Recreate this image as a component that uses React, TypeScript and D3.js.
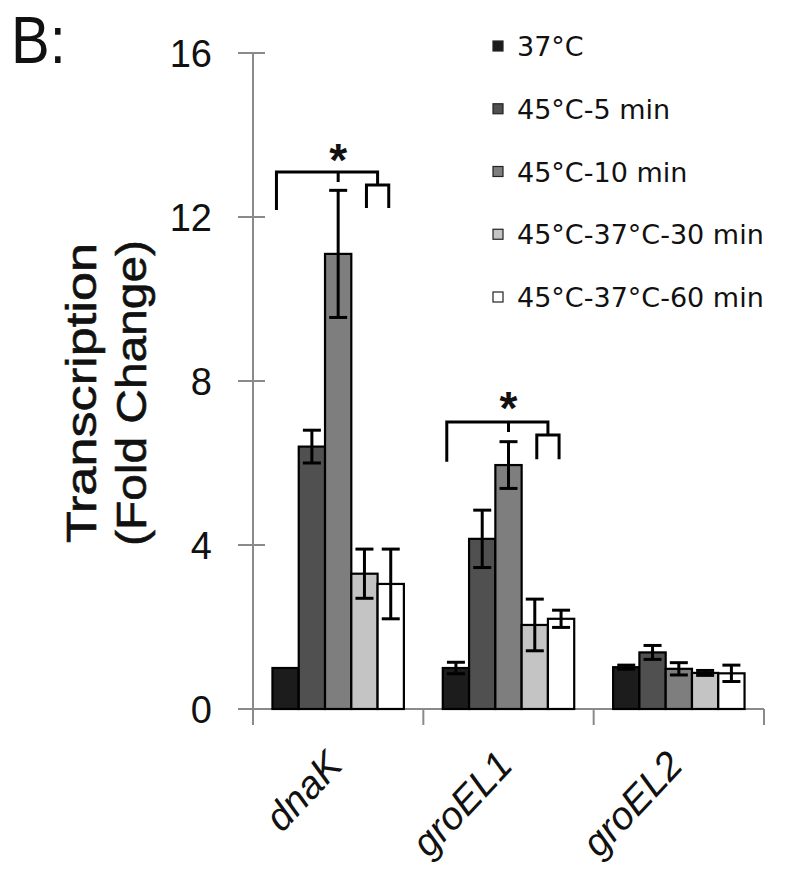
import React, { useRef, useEffect } from 'react';
import * as d3 from 'd3';

const categories = ['dnaK', 'groEL1', 'groEL2'];
const series = ['37°C', '45°C-5 min', '45°C-10 min', '45°C-37°C-30 min', '45°C-37°C-60 min'];
const colors = ['#1c1c1c', '#505050', '#7e7e7e', '#c4c4c4', '#ffffff'];

// mean fold change per category, one array per series
const values = [
  [1.0, 1.0, 1.02],
  [6.4, 4.15, 1.38],
  [11.1, 5.95, 0.98],
  [3.3, 2.05, 0.88],
  [3.05, 2.2, 0.87],
];
const errors = [
  [0.0, 0.14, 0.05],
  [0.4, 0.7, 0.17],
  [1.55, 0.57, 0.15],
  [0.6, 0.63, 0.06],
  [0.85, 0.21, 0.2],
];

const yTicks = [0, 4, 8, 12, 16];

// significance brackets: main line, left leg end, sub-bracket line, sub leg end, star
const sigCategories = ['dnaK', 'groEL1'];
const sigMain = [13.1, 7.0];
const sigLeg = [12.17, 6.03];
const sigSub = [12.78, 6.68];
const sigSubLeg = [12.22, 6.09];
const sigStar = [13.62, 7.55];

const W = 800;
const H = 880;

const App = () => {
  const svgRef = useRef<SVGSVGElement>(null);

  useEffect(() => {
    const svg = d3.select(svgRef.current);
    svg.selectAll('*').remove();

    const x0 = 253, x1 = 764, y0 = 709, y1 = 53;
    const axisColor = '#8a8a8a';

    const y = d3.scaleLinear().domain([0, 16]).range([y0, y1]);
    const x = d3.scaleBand().domain(categories).range([x0, x1]).padding(0);
    const xs = d3.scaleBand().domain(series).range([0, x.bandwidth()])
      .paddingInner(0).paddingOuter(0.74);
    const bw = xs.bandwidth();

    svg.append('rect').attr('width', W).attr('height', H).attr('fill', '#fff');

    // panel letter
    svg.append('text')
      .attr('transform', 'translate(11,63) scale(1,1.15)')
      .attr('font-family', 'Liberation Sans, Arial, sans-serif')
      .attr('font-size', 58)
      .attr('fill', '#111')
      .text('B:');

    // y axis
    const gy = svg.append('g');
    gy.append('line')
      .attr('x1', x0).attr('x2', x0)
      .attr('y1', y(16)).attr('y2', y0 + 16)
      .attr('stroke', axisColor).attr('stroke-width', 2);
    gy.selectAll('.tick')
      .data(yTicks)
      .enter().append('line')
        .attr('x1', x0 - 15).attr('x2', x0 + 12)
        .attr('y1', d => y(d)).attr('y2', d => y(d))
        .attr('stroke', axisColor).attr('stroke-width', 2);
    gy.selectAll('.lbl')
      .data(yTicks)
      .enter().append('text')
        .attr('x', x0 - 41)
        .attr('y', d => y(d) + 14)
        .attr('text-anchor', 'end')
        .attr('font-family', 'Liberation Sans, Arial, sans-serif')
        .attr('font-size', 38)
        .attr('fill', '#111')
        .text(d => d);

    // y axis title
    const titleY = 393;
    [['Transcription', 96], ['(Fold Change)', 146]].forEach(([t, cx]) => {
      svg.append('text')
        .attr('transform', `translate(${cx},${titleY}) rotate(-90)`)
        .attr('text-anchor', 'middle')
        .attr('font-family', 'Liberation Sans, Arial, sans-serif')
        .attr('font-size', 42)
        .attr('textLength', t === 'Transcription' ? 300 : 306)
        .attr('lengthAdjust', 'spacingAndGlyphs')
        .attr('fill', '#111')
        .attr('stroke', '#111')
        .attr('stroke-width', 0.6)
        .text(t as string);
    });

    // x axis
    const gx = svg.append('g');
    gx.append('line')
      .attr('x1', x0).attr('x2', x1)
      .attr('y1', y0).attr('y2', y0)
      .attr('stroke', axisColor).attr('stroke-width', 2);
    const boundaries = categories.map(c => x(c) as number).concat([x1]);
    gx.selectAll('.xt')
      .data(boundaries.slice(1))
      .enter().append('line')
        .attr('x1', d => d).attr('x2', d => d)
        .attr('y1', y0).attr('y2', y0 + 16)
        .attr('stroke', axisColor).attr('stroke-width', 2);
    gx.selectAll('.xl')
      .data(categories)
      .enter().append('text')
        .attr('transform', d => `translate(${(x(d) as number) + x.bandwidth() / 2 + 6},${y0 + 58}) rotate(-47)`)
        .attr('text-anchor', 'end')
        .attr('font-family', 'Liberation Sans, Arial, sans-serif')
        .attr('font-style', 'italic')
        .attr('font-size', 39)
        .attr('fill', '#111')
        .text(d => d);

    // bars
    const rows = series.flatMap((s, si) => categories.map((c, ci) => ({
      s, si, c, v: values[si][ci], e: errors[si][ci],
    })));
    const g = svg.append('g');
    g.selectAll('.bar')
      .data(rows)
      .enter().append('rect')
        .attr('x', d => (x(d.c) as number) + (xs(d.s) as number))
        .attr('y', d => y(d.v))
        .attr('width', bw)
        .attr('height', d => y0 - y(d.v))
        .attr('fill', d => colors[d.si])
        .attr('stroke', '#000')
        .attr('stroke-width', 2.2);

    // error bars
    const eb = g.selectAll('.err').data(rows.filter(d => d.e > 0)).enter().append('g');
    const cxOf = (d: any) => (x(d.c) as number) + (xs(d.s) as number) + bw / 2;
    eb.append('line')
      .attr('x1', cxOf).attr('x2', cxOf)
      .attr('y1', d => y(d.v + d.e)).attr('y2', d => y(d.v - d.e))
      .attr('stroke', '#000').attr('stroke-width', 3);
    [1, -1].forEach(sign => {
      eb.append('line')
        .attr('x1', d => cxOf(d) - 9).attr('x2', d => cxOf(d) + 9)
        .attr('y1', d => y(d.v + sign * d.e)).attr('y2', d => y(d.v + sign * d.e))
        .attr('stroke', '#000').attr('stroke-width', 3);
    });

    // significance brackets
    const sig = sigCategories.map((c, i) => ({
      c, main: sigMain[i], leg: sigLeg[i], sub: sigSub[i], subLeg: sigSubLeg[i], star: sigStar[i],
    }));
    const barCenter = (c: string, si: number) => (x(c) as number) + (xs(series[si]) as number) + bw / 2;
    const sg = svg.append('g').attr('fill', 'none').attr('stroke', '#000').attr('stroke-width', 3);
    sig.forEach(d => {
      const left = (x(d.c) as number) + (xs(series[0]) as number) + 4;
      const sl = barCenter(d.c, 3) + 2;
      const sr = barCenter(d.c, 4) - 2;
      const right = (sl + sr) / 2;
      const mid = barCenter(d.c, 2);
      const path = d3.path();
      path.moveTo(left, y(d.leg));
      path.lineTo(left, y(d.main));
      path.lineTo(right, y(d.main));
      path.lineTo(right, y(d.sub));
      path.moveTo(mid, y(d.main));
      path.lineTo(mid, y(d.main) + 10);
      path.moveTo(sl, y(d.subLeg));
      path.lineTo(sl, y(d.sub));
      path.lineTo(sr, y(d.sub));
      path.lineTo(sr, y(d.subLeg));
      sg.append('path').attr('d', path.toString());
      svg.append('text')
        .attr('x', mid)
        .attr('y', y(d.star) + 25)
        .attr('text-anchor', 'middle')
        .attr('font-family', 'Liberation Sans, Arial, sans-serif')
        .attr('font-weight', 'bold')
        .attr('font-size', 46)
        .attr('fill', '#111')
        .text('*');
    });

    // legend
    const legY = d3.scaleLinear().domain([0, 4]).range([46, 297]);
    const lg = svg.append('g');
    series.forEach((s, i) => {
      lg.append('rect')
        .attr('x', 493).attr('y', legY(i) - 5)
        .attr('width', 10).attr('height', 10)
        .attr('fill', colors[i])
        .attr('stroke', '#222').attr('stroke-width', 1.2);
      lg.append('text')
        .attr('x', 517).attr('y', legY(i) + 10)
        .attr('font-family', 'DejaVu Sans, sans-serif')
        .attr('font-size', 27)
        .attr('fill', '#111')
        .text(s);
    });
  }, []);

  return (
    <svg ref={svgRef} width={W} height={H}
      style={{ position: 'absolute', left: 0, top: 0 }}></svg>
  );
};

export default App;
